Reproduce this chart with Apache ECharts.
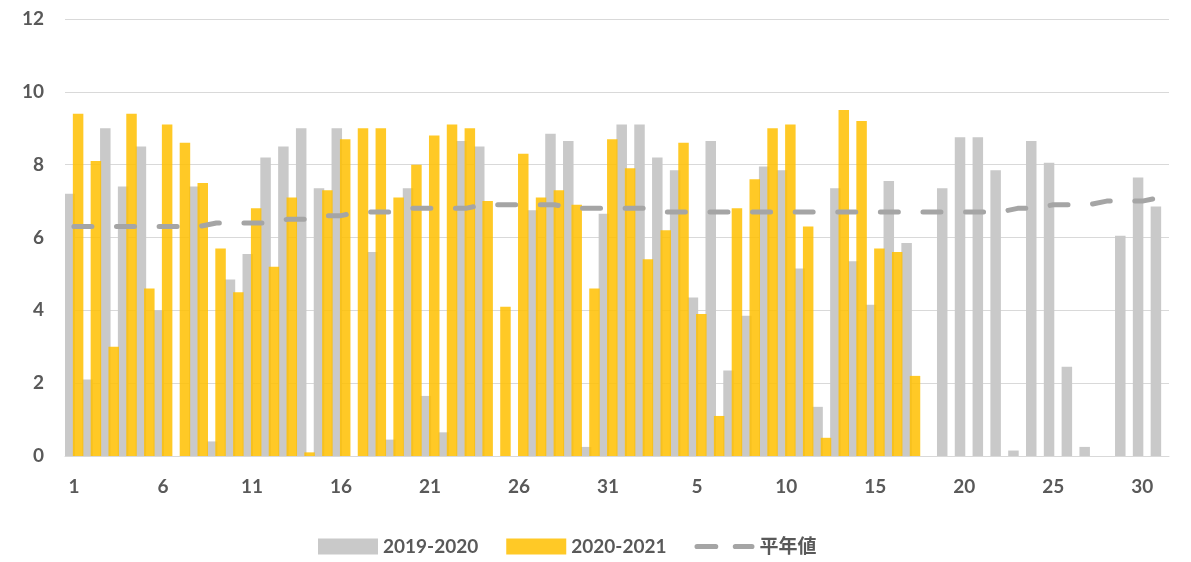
<!DOCTYPE html>
<html>
<head>
<meta charset="utf-8">
<script src="https://cdn.jsdelivr.net/npm/echarts@6/dist/echarts.min.js"></script>
<style>
    html, body { margin: 0; padding: 0; background: #fff; }
    #chart { width: 1191px; height: 562px; }
</style>
</head>
<body>
<div id="chart"></div>
<script>
// 2ヶ月分の日付 (31日 + 31日)
let days1 = [];
for (let d = 1; d <= 31; d++) days1.push(String(d));
let days2 = [];
for (let d = 1; d <= 31; d++) days2.push(String(d));
let categories = days1.concat(days2);

let series2019 = [
    7.2, 2.1, 9.0, 7.4, 8.5, 4.0, 0, 7.4, 0.4, 4.85,
    5.55, 8.2, 8.5, 9.0, 7.35, 9.0, 0, 5.6, 0.45, 7.35,
    1.65, 0.65, 8.65, 8.5, 0, 0, 6.75, 8.85, 8.65, 0.25,
    6.65,
    9.1, 9.1, 8.2, 7.85, 4.35, 8.65, 2.35, 3.85, 7.95, 7.85,
    5.15, 1.35, 7.35, 5.35, 4.15, 7.55, 5.85, 0, 7.35, 8.75,
    8.75, 7.85, 0.15, 8.65, 8.05, 2.45, 0.25, 0, 6.05, 7.65,
    6.85
];

let series2020 = [
    9.4, 8.1, 3.0, 9.4, 4.6, 9.1, 8.6, 7.5, 5.7, 4.5,
    6.8, 5.2, 7.1, 0.1, 7.3, 8.7, 9.0, 9.0, 7.1, 8.0,
    8.8, 9.1, 9.0, 7.0, 4.1, 8.3, 7.1, 7.3, 6.9, 4.6,
    8.7,
    7.9, 5.4, 6.2, 8.6, 3.9, 1.1, 6.8, 7.6, 9.0, 9.1,
    6.3, 0.5, 9.5, 9.2, 5.7, 5.6, 2.2, null, null, null,
    null, null, null, null, null, null, null, null, null, null,
    null
];

let normalValues = [
    6.3, 6.3, 6.3, 6.3, 6.3, 6.3, 6.3, 6.3, 6.4, 6.4,
    6.4, 6.4, 6.5, 6.5, 6.6, 6.6, 6.7, 6.7, 6.7, 6.8,
    6.8, 6.8, 6.8, 6.9, 6.9, 6.9, 6.9, 6.9, 6.8, 6.8,
    6.8,
    6.8, 6.8, 6.7, 6.7, 6.7, 6.7, 6.7, 6.7, 6.7, 6.7,
    6.7, 6.7, 6.7, 6.7, 6.7, 6.7, 6.7, 6.7, 6.7, 6.7,
    6.7, 6.7, 6.8, 6.8, 6.9, 6.9, 6.9, 7.0, 7.0, 7.0,
    7.1
];

let font = 'Lato, "Noto Sans CJK JP", sans-serif';
let textColor = '#595959';
// 凡例の破線アイコン
let dashIcon = 'path://M2.5,0 h18 a2.5,2.5 0 0 1 0,5 h-18 a2.5,2.5 0 0 1 0,-5z M39.5,0 h16 a2.5,2.5 0 0 1 0,5 h-16 a2.5,2.5 0 0 1 0,-5z';

let mychart = echarts.init(document.getElementById('chart'));
let option = {
    animation: false,
    grid: {
        left: 65,
        right: 22,
        top: 19,
        bottom: 106
    },
    legend: {
        left: 313,
        top: 532,
        itemWidth: 60,
        itemHeight: 16,
        itemGap: 28,
        textStyle: {
            color: textColor,
            fontFamily: font,
            fontWeight: 'bold',
            fontSize: 19
        },
        data: [
            { name: '2019-2020', icon: 'rect' },
            { name: '2020-2021', icon: 'rect' },
            { name: '平年値', icon: dashIcon, itemStyle: { color: '#A5A5A5' } }
        ]
    },
    xAxis: {
        type: 'category',
        data: categories,
        axisLine: { lineStyle: { color: '#D9D9D9', width: 1 } },
        axisTick: { show: false },
        axisLabel: {
            interval: 4,
            margin: 21,
            color: textColor,
            fontFamily: font,
            fontWeight: 'bold',
            fontSize: 19
        }
    },
    yAxis: {
        type: 'value',
        min: 0,
        max: 12,
        interval: 2,
        axisLine: { show: false },
        axisTick: { show: false },
        splitLine: { lineStyle: { color: '#D9D9D9', width: 1 } },
        axisLabel: {
            margin: 21,
            color: textColor,
            fontFamily: font,
            fontWeight: 'bold',
            fontSize: 19
        }
    },
    series: [
        {
            name: '2019-2020',
            type: 'bar',
            data: series2019,
            barWidth: 10.5,
            barGap: '-20%',
            itemStyle: { color: '#C9C9C9' }
        },
        {
            name: '2020-2021',
            type: 'bar',
            data: series2020,
            barWidth: 10.5,
            itemStyle: { color: 'rgba(255,192,0,0.85)' }
        },
        {
            name: '平年値',
            type: 'line',
            data: normalValues,
            symbol: 'none',
            z: 5,
            itemStyle: { color: '#A5A5A5' },
            lineStyle: {
                color: '#A5A5A5',
                width: 5,
                type: [18, 24.6],
                cap: 'round'
            }
        }
    ]
};
mychart.setOption(option);
</script>
</body>
</html>
